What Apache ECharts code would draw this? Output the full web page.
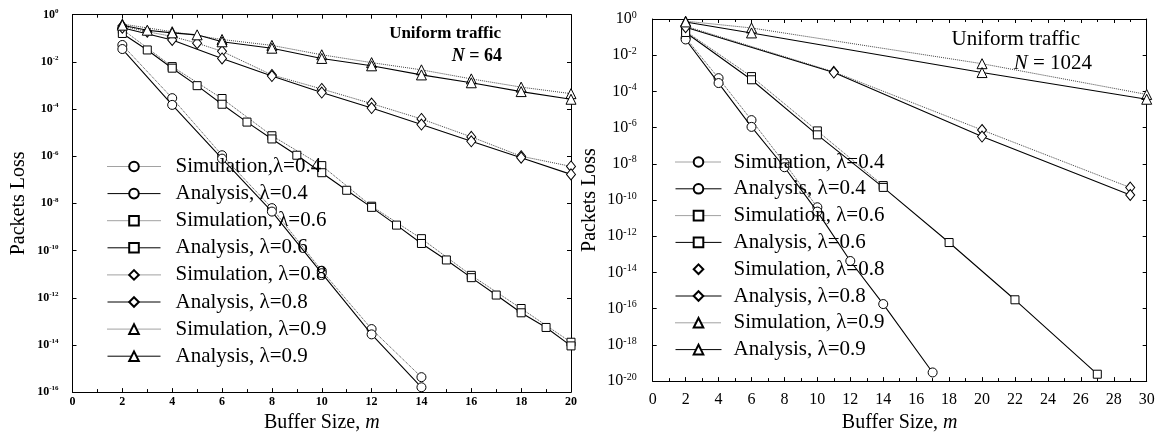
<!DOCTYPE html>
<html>
<head>
<meta charset="utf-8">
<script src="https://cdn.jsdelivr.net/npm/echarts@6/dist/echarts.min.js"></script>
<style>html,body{margin:0;padding:0;background:#fff}#c{width:1163px;height:438px}</style>
</head>
<body>
<div id="c"></div>
<script>
// ---------- Left panel: N = 64 ----------
const L_x04 = [2, 4, 6, 8, 10, 12, 14];
const L_sim04 = [5.2e-2, 2.9e-4, 1.1e-6, 6.3e-9, 1.4e-11, 4.7e-14, 4.3e-16];
const L_ana04 = [3.5e-2, 1.5e-4, 7.9e-7, 4.5e-9, 1.1e-11, 2.8e-14, 1.6e-16];

const L_x06s = [2, 4, 6, 8, 10, 12, 14, 16, 18, 20];
const L_sim06 = [2.4e-1, 6.3e-3, 2.8e-4, 7.4e-6, 4.0e-7, 7.6e-9, 3.2e-10, 8.9e-12, 3.5e-13, 1.3e-14];
const L_x06a = [2, 3, 4, 5, 6, 7, 8, 9, 10, 11, 12, 13, 14, 15, 16, 17, 18, 19, 20];
const L_ana06 = [1.6e-1, 3.2e-2, 5.4e-3, 9.8e-4, 1.6e-4, 2.8e-5, 5.4e-6, 1.1e-6, 2.0e-7, 3.6e-8, 6.8e-9, 1.2e-9, 2.0e-10, 4.0e-11, 7.1e-12, 1.3e-12, 2.3e-13, 5.5e-14, 9.1e-15];

const L_x08s = [2, 3, 4, 5, 6, 8, 10, 12, 14, 16, 18, 20];
const L_sim08 = [3.3e-1, 1.9e-1, 1.2e-1, 6.2e-2, 2.8e-2, 2.8e-3, 7.1e-4, 1.7e-4, 3.8e-5, 6.6e-6, 1.0e-6, 3.7e-7];
const L_x08a = [2, 4, 6, 8, 10, 12, 14, 16, 18, 20];
const L_ana08 = [2.8e-1, 8.5e-2, 1.4e-2, 2.5e-3, 5.0e-4, 1.1e-4, 2.2e-5, 4.3e-6, 8.7e-7, 1.7e-7];

const L_x09s = [2, 4, 6, 8, 10, 12, 14, 16, 18, 20];
const L_sim09 = [4.0e-1, 1.9e-1, 8.9e-2, 5.0e-2, 2.0e-2, 9.3e-3, 4.6e-3, 1.9e-3, 8.5e-4, 4.5e-4];
const L_x09a = [2, 3, 4, 5, 6, 8, 10, 12, 14, 16, 18, 20];
const L_ana09 = [3.6e-1, 2.2e-1, 1.7e-1, 1.4e-1, 7.1e-2, 3.8e-2, 1.4e-2, 6.8e-3, 2.8e-3, 1.3e-3, 5.5e-4, 2.6e-4];

// ---------- Right panel: N = 1024 ----------
const R_x04s = [2, 4, 6, 8, 10];
const R_sim04 = [9.1e-2, 5.4e-4, 2.6e-6, 1.1e-8, 4.0e-11];
const R_x04a = [2, 4, 6, 8, 10, 12, 14, 17];
const R_ana04 = [7.4e-2, 2.9e-4, 1.1e-6, 6.5e-9, 2.3e-11, 4.3e-14, 1.8e-16, 3.0e-20];

const R_x06s = [2, 6, 10, 14];
const R_sim06 = [2.1e-1, 6.6e-4, 6.6e-7, 6.3e-10];
const R_x06a = [2, 6, 10, 14, 18, 22, 27];
const R_ana06 = [1.8e-1, 4.4e-4, 4.0e-7, 5.0e-10, 4.5e-13, 3.1e-16, 2.4e-20];

const R_x08 = [2, 11, 20, 29];
const R_sim08 = [4.0e-1, 1.2e-3, 7.4e-7, 4.9e-10];
const R_ana08 = [3.5e-1, 1.1e-3, 3.2e-7, 1.9e-10];

const R_x09 = [2, 6, 20, 30];
const R_sim09 = [7.6e-1, 3.2e-1, 3.4e-3, 6.8e-5];
const R_ana09 = [6.9e-1, 1.7e-1, 1.1e-3, 3.7e-5];

const L_names = ['Simulation,λ=0.4', 'Analysis, λ=0.4', 'Simulation, λ=0.6', 'Analysis, λ=0.6',
                 'Simulation, λ=0.8', 'Analysis, λ=0.8', 'Simulation, λ=0.9', 'Analysis, λ=0.9'];
const R_names = ['Simulation, λ=0.4', 'Analysis, λ=0.4', 'Simulation, λ=0.6', 'Analysis, λ=0.6',
                 'Simulation, λ=0.8', 'Analysis, λ=0.8', 'Simulation, λ=0.9', 'Analysis, λ=0.9'];

const FONT = "'Liberation Serif','Times New Roman',serif";

const SYM = {
  c: { symbol: 'circle', size: 9 },
  s: { symbol: 'rect', size: 8 },
  d: { symbol: 'diamond', size: [9, 11] },
  t: { symbol: 'triangle', size: 10 }
};

function mk(name, xs, ys, sym, sim, g) {
  return {
    name: name, type: 'line', xAxisIndex: g * 2, yAxisIndex: g * 2,
    data: xs.map((x, i) => [x, ys[i]]),
    symbol: SYM[sym].symbol, symbolSize: SYM[sym].size, showSymbol: true,
    lineStyle: { color: sim ? '#444' : '#000', width: sim ? 1 : 1.1, type: sim ? 'dotted' : 'solid' },
    itemStyle: { color: '#fff', borderColor: '#000', borderWidth: 1 },
    emphasis: { disabled: true },
    z: sim ? 2 : 3, animation: false
  };
}

function supFmt(v) {
  const e = Math.round(Math.log10(v));
  return '{b|10}{s|' + e + '}';
}

function xAx(g, pos, max, lbl) {
  return {
    type: 'value', gridIndex: g, position: pos, min: 0, max: max, interval: 2,
    axisLine: { onZero: false, lineStyle: { color: '#000', width: 1 } },
    axisTick: { show: true, inside: true, length: 4, lineStyle: { color: '#000' } },
    minorTick: { show: true, splitNumber: 2, length: 3, lineStyle: { color: '#000' } },
    splitLine: { show: false },
    axisLabel: lbl || { show: false }
  };
}
function yAx(g, pos, min, lbl) {
  return {
    type: 'log', logBase: 10, gridIndex: g, position: pos, min: min, max: 1, interval: 2,
    axisLine: { onZero: false, lineStyle: { color: '#000', width: 1 } },
    axisTick: { show: true, inside: true, length: 4, lineStyle: { color: '#000' } },
    splitLine: { show: false },
    axisLabel: lbl || { show: false }
  };
}

const nameRich = { n: { fontFamily: FONT, fontSize: 20, color: '#000' },
                   i: { fontFamily: FONT, fontSize: 20, fontStyle: 'italic', color: '#000' } };

const xLeft = xAx(0, 'bottom', 20, { show: true, fontFamily: FONT, fontSize: 12, fontWeight: 'bold', color: '#000', margin: 4 });
xLeft.name = '{n|Buffer Size, }{i|m}';
xLeft.nameLocation = 'middle'; xLeft.nameGap = 13;
xLeft.nameTextStyle = { rich: nameRich };

const xRight = xAx(1, 'bottom', 30, { show: true, fontFamily: FONT, fontSize: 16, color: '#000', margin: 11 });
xRight.name = '{n|Buffer Size, }{i|m}';
xRight.nameLocation = 'middle'; xRight.nameGap = 26;
xRight.nameTextStyle = { rich: nameRich };

const yLeft = yAx(0, 'left', 1e-16, { show: true, margin: 14, formatter: supFmt,
  rich: { b: { fontFamily: FONT, fontSize: 12, fontWeight: 'bold', color: '#000', lineHeight: 14 },
          s: { fontFamily: FONT, fontSize: 7, fontWeight: 'bold', color: '#000', lineHeight: 7, verticalAlign: 'top' } } });
yLeft.name = 'Packets Loss'; yLeft.nameLocation = 'middle'; yLeft.nameGap = 44;
yLeft.nameTextStyle = { fontFamily: FONT, fontSize: 20, color: '#000' };

const yRight = yAx(1, 'left', 1e-20, { show: true, margin: 16, formatter: supFmt,
  rich: { b: { fontFamily: FONT, fontSize: 16, color: '#000', lineHeight: 18 },
          s: { fontFamily: FONT, fontSize: 10, color: '#000', lineHeight: 10, verticalAlign: 'top' } } });
yRight.name = 'Packets Loss'; yRight.nameLocation = 'middle'; yRight.nameGap = 53;
yRight.nameTextStyle = { fontFamily: FONT, fontSize: 20, color: '#000' };

const legendBase = (left, top, w, gap, pad, data, fs) => ({
  orient: 'vertical', left: left, top: top, padding: 0,
  itemWidth: w, itemHeight: 12, itemGap: gap, selectedMode: false,
  lineStyle: { width: 1 },
  textStyle: { fontFamily: FONT, fontSize: fs, lineHeight: 20, color: '#000', padding: [0, 0, 0, pad] },
  data: data
});

const R_legendData = R_names.map((n, i) => i === 4 ? { name: n, lineStyle: { opacity: 0 } } : n);

const option = {
  backgroundColor: '#fff',
  animation: false,
  title: [
    { text: 'Uniform traffic', right: 1163 - 501, top: 25, padding: 0,
      textStyle: { fontFamily: FONT, fontSize: 17, fontWeight: 'bold', color: '#000' } },
    { text: '{i|N} = 64', right: 1163 - 502, top: 47, padding: 0,
      textStyle: { fontFamily: FONT, fontSize: 18, fontWeight: 'bold', color: '#000',
        rich: { i: { fontFamily: FONT, fontSize: 18, fontWeight: 'bold', fontStyle: 'italic', color: '#000' } } } },
    { text: 'Uniform traffic', right: 1163 - 1080, top: 29, padding: 0,
      textStyle: { fontFamily: FONT, fontSize: 21, fontWeight: 'normal', color: '#000' } },
    { text: '{i|N} = 1024', right: 1163 - 1092, top: 53, padding: 0,
      textStyle: { fontFamily: FONT, fontSize: 21, fontWeight: 'normal', color: '#000',
        rich: { i: { fontFamily: FONT, fontSize: 21, fontStyle: 'italic', color: '#000' } } } }
  ],
  legend: [
    legendBase(107, 156, 53, 6.1, 10, L_names, 21),
    legendBase(675, 151.5, 46, 5.8, 7, R_legendData, 21)
  ],
  grid: [
    { left: 72.5, top: 14.7, width: 498.5, height: 378.3 },
    { left: 652.7, top: 19, width: 494, height: 373 }
  ],
  xAxis: [xLeft, xAx(0, 'top', 20), xRight, xAx(1, 'top', 30)],
  yAxis: [yLeft, yAx(0, 'right', 1e-16), yRight, yAx(1, 'right', 1e-20)],
  series: [
    mk(L_names[0], L_x04, L_sim04, 'c', true, 0),
    mk(L_names[1], L_x04, L_ana04, 'c', false, 0),
    mk(L_names[2], L_x06s, L_sim06, 's', true, 0),
    mk(L_names[3], L_x06a, L_ana06, 's', false, 0),
    mk(L_names[4], L_x08s, L_sim08, 'd', true, 0),
    mk(L_names[5], L_x08a, L_ana08, 'd', false, 0),
    mk(L_names[6], L_x09s, L_sim09, 't', true, 0),
    mk(L_names[7], L_x09a, L_ana09, 't', false, 0),

    mk(R_names[0], R_x04s, R_sim04, 'c', true, 1),
    mk(R_names[1], R_x04a, R_ana04, 'c', false, 1),
    mk(R_names[2], R_x06s, R_sim06, 's', true, 1),
    mk(R_names[3], R_x06a, R_ana06, 's', false, 1),
    mk(R_names[4], R_x08, R_sim08, 'd', true, 1),
    mk(R_names[5], R_x08, R_ana08, 'd', false, 1),
    mk(R_names[6], R_x09, R_sim09, 't', true, 1),
    mk(R_names[7], R_x09, R_ana09, 't', false, 1)
  ]
};

const chart = echarts.init(document.getElementById('c'), null, { renderer: 'canvas' });
chart.setOption(option);
</script>
</body>
</html>
